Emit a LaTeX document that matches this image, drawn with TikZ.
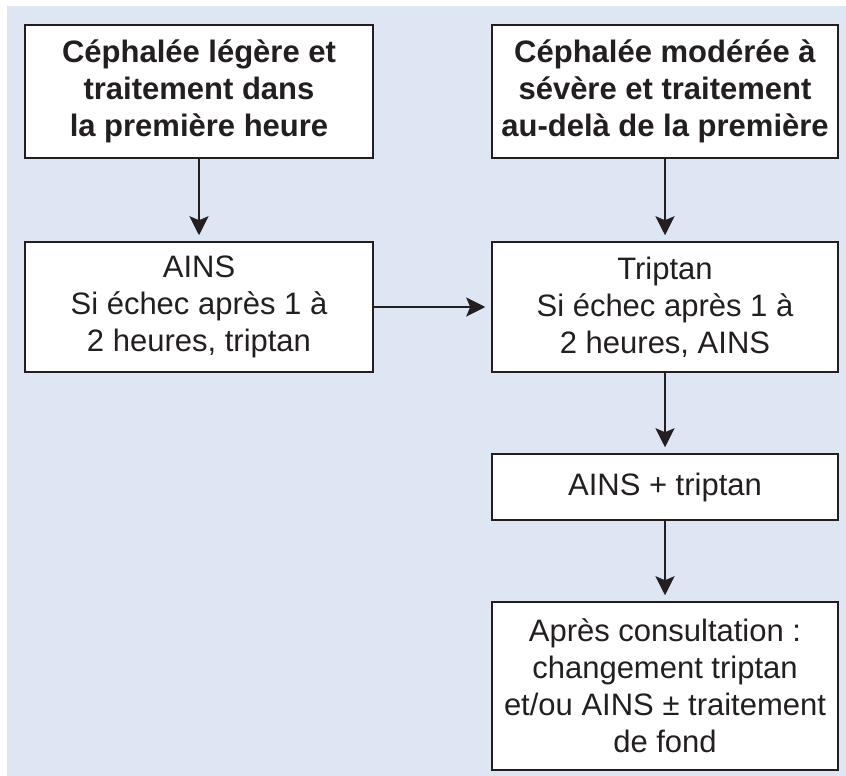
\documentclass[tikz,border=0pt]{standalone}
\usepackage{fontspec}
\setmainfont{Liberation Sans}
\usetikzlibrary{arrows.meta}
\definecolor{bgblue}{RGB}{222,229,243}
\definecolor{ink}{RGB}{35,31,32}
\begin{document}
\begin{tikzpicture}[x=1pt,y=-1pt,
  box/.style={draw=ink, line width=1.5pt, fill=white, align=center, inner sep=0pt, text=ink, font=\fontsize{31}{37}\selectfont},
  boldbox/.style={box, font=\bfseries\fontsize{31}{37}\selectfont},
  conn/.style={draw=ink, line width=2.2pt, -{Stealth[length=19pt,width=19pt,inset=4pt]}, shorten >=6pt}]
\useasboundingbox (0,0) rectangle (846,776);
\fill[bgblue] (7,6) rectangle (846,776);
\node[boldbox, minimum width=348pt, minimum height=133pt] (b1) at (199,91.5) {Céphalée légère et\\traitement dans\\la première heure};
\node[boldbox, minimum width=346pt, minimum height=133pt] (b2) at (665,91.5) {Céphalée modérée à\\sévère et traitement\\au-delà de la première};
\node[box, minimum width=348pt, minimum height=130pt] (b3) at (199,307) {AINS\\Si échec après 1 à\\2 heures, triptan};
\node[box, minimum width=346pt, minimum height=130pt] (b4) at (665,307) {Triptan\\Si échec après 1 à\\2 heures, AINS};
\node[box, minimum width=346pt, minimum height=66pt] (b5) at (665,487) {AINS + triptan};
\node[box, minimum width=346pt, minimum height=168pt] (b6) at (665,686) {Après consultation :\\changement triptan\\et/ou AINS ± traitement\\de fond};
\draw[conn] (b1) -- (b3);
\draw[conn] (b2) -- (b4);
\draw[conn] (b3) -- (b4);
\draw[conn] (b4) -- (b5);
\draw[conn] (b5) -- (b6);
\end{tikzpicture}
\end{document}
